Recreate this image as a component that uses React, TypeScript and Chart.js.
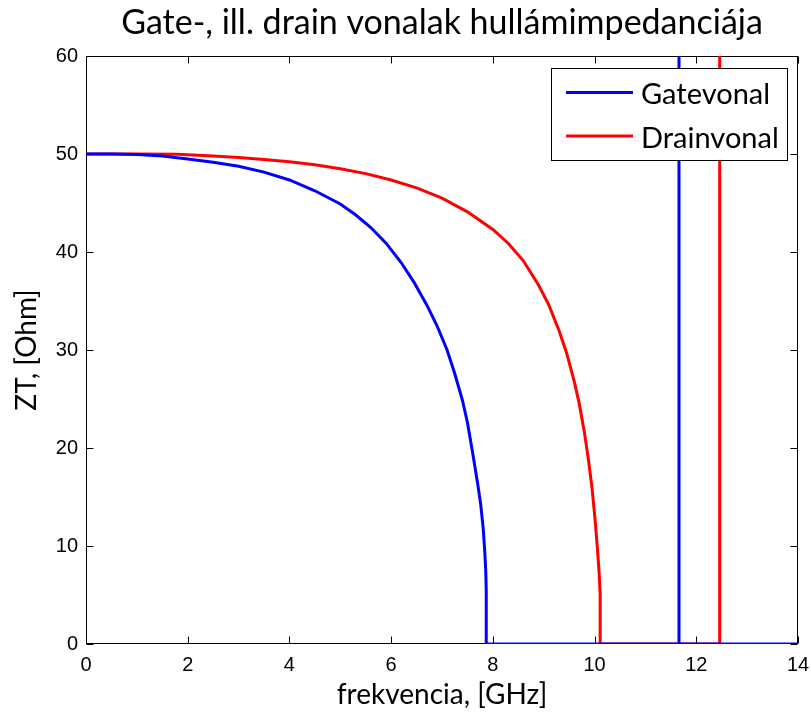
import React, { useEffect, useRef } from 'react';
import { Chart, registerables } from 'chart.js';

Chart.register(...registerables);

const titleText = 'Gate-, ill. drain vonalak hullámimpedanciája';
const xLabel = 'frekvencia, [GHz]';
const yLabel = 'ZT, [Ohm]';
const seriesLabels = ['Gatevonal', 'Drainvonal'];
const seriesColors = ['#0000ff', '#ff0000'];

const xTicks = [0, 2, 4, 6, 8, 10, 12, 14];
const yTicks = [0, 10, 20, 30, 40, 50, 60];

// Gate line characteristic impedance (Ohm) vs frequency (GHz)
const gateFreq = [0, 0.5, 1.0, 1.5, 2.0, 2.5, 3.0, 3.5, 4.0, 4.5, 5.0, 5.3, 5.6, 5.9, 6.2, 6.45, 6.7, 6.9, 7.1, 7.25, 7.4, 7.5, 7.6, 7.7, 7.76, 7.81, 7.84, 7.86, 7.87, 7.87, 11.66, 11.66, 11.66, 14];
const gateZ = [50.0, 50.0, 49.95, 49.8, 49.5, 49.15, 48.75, 48.15, 47.35, 46.25, 44.9, 43.8, 42.5, 40.9, 38.9, 36.9, 34.6, 32.5, 30.0, 27.6, 24.9, 22.6, 19.6, 16.4, 14.3, 11.8, 9.5, 7.5, 5.5, 0, 0, 1000, 0, 0];

// Drain line characteristic impedance (Ohm) vs frequency (GHz)
const drainFreq = [0, 1.0, 1.8, 2.5, 3.0, 3.5, 4.0, 4.5, 5.0, 5.5, 6.0, 6.5, 7.0, 7.5, 8.0, 8.3, 8.6, 8.9, 9.1, 9.3, 9.45, 9.6, 9.7, 9.8, 9.88, 9.95, 10.01, 10.06, 10.09, 10.11, 10.11, 12.46, 12.46, 14];
const drainZ = [50.0, 50.0, 49.97, 49.8, 49.65, 49.45, 49.2, 48.9, 48.5, 48.0, 47.35, 46.55, 45.5, 44.1, 42.3, 40.9, 39.1, 36.6, 34.6, 32.0, 29.7, 26.8, 24.5, 21.6, 18.8, 15.9, 12.7, 9.5, 7.2, 5.1, 0, 0, 1000, 1000];

const calibriLike = 'Lato, "Open Sans", sans-serif';
const arialLike = '"Liberation Sans", Arial, sans-serif';

const boxPlugin = {
  id: 'matlabBox',
  beforeDatasetsDraw(chart: any) {
    const { ctx, chartArea } = chart;
    const l = Math.round(chartArea.left) + 0.5;
    const r = Math.round(chartArea.right) - 0.5;
    const t = Math.round(chartArea.top) + 0.5;
    const b = Math.round(chartArea.bottom) - 0.5;
    const xs = chart.scales.x;
    const ys = chart.scales.y;
    const tl = 7;
    ctx.save();
    ctx.strokeStyle = '#000';
    ctx.lineWidth = 1;
    ctx.strokeRect(l, t, r - l, b - t);
    ctx.beginPath();
    xTicks.forEach((v) => {
      const px = Math.round(xs.getPixelForValue(v)) + 0.5;
      ctx.moveTo(px, b);
      ctx.lineTo(px, b - tl);
      ctx.moveTo(px, t);
      ctx.lineTo(px, t + tl);
    });
    yTicks.forEach((v) => {
      const py = Math.round(ys.getPixelForValue(v)) + 0.5;
      ctx.moveTo(l, py);
      ctx.lineTo(l + tl, py);
      ctx.moveTo(r, py);
      ctx.lineTo(r - tl, py);
    });
    ctx.stroke();
    ctx.restore();
  },
};

const legendPlugin = {
  id: 'matlabLegend',
  afterDraw(chart: any) {
    const { ctx } = chart;
    const bx = 551.5;
    const by = 68.5;
    const bw = 236;
    const bh = 92;
    ctx.save();
    ctx.fillStyle = '#fff';
    ctx.fillRect(bx, by, bw, bh);
    ctx.strokeStyle = '#000';
    ctx.lineWidth = 1;
    ctx.strokeRect(bx, by, bw, bh);
    ctx.font = '29px ' + calibriLike;
    ctx.textBaseline = 'middle';
    ctx.textAlign = 'left';
    chart.data.datasets.forEach((ds: any, i: number) => {
      const y = 92.5 + i * 43.5;
      ctx.strokeStyle = ds.borderColor;
      ctx.lineWidth = 3;
      ctx.beginPath();
      ctx.moveTo(566, y);
      ctx.lineTo(633, y);
      ctx.stroke();
      ctx.fillStyle = '#000';
      ctx.fillText(ds.label, 641, y + 2.5);
    });
    ctx.restore();
  },
};

export default function App() {
  const canvasRef = useRef<HTMLCanvasElement | null>(null);

  useEffect(() => {
    if (!canvasRef.current) return;
    const toPoints = (xs: number[], ys: number[]) => xs.map((x, i) => ({ x, y: ys[i] }));
    const chart = new Chart(canvasRef.current, {
      type: 'scatter',
      data: {
        datasets: [
          {
            label: seriesLabels[0],
            data: toPoints(gateFreq, gateZ),
            borderColor: seriesColors[0],
            backgroundColor: seriesColors[0],
            showLine: true,
            borderWidth: 3,
            pointRadius: 0,
            tension: 0,
          },
          {
            label: seriesLabels[1],
            data: toPoints(drainFreq, drainZ),
            borderColor: seriesColors[1],
            backgroundColor: seriesColors[1],
            showLine: true,
            borderWidth: 3,
            pointRadius: 0,
            tension: 0,
          },
        ],
      },
      options: {
        responsive: false,
        animation: false,
        layout: { padding: { left: 0, right: 13, top: 0, bottom: 0 } },
        plugins: {
          legend: { display: false },
          tooltip: { enabled: false },
          title: {
            display: true,
            text: titleText,
            fullSize: false,
            color: '#000',
            font: { family: calibriLike, size: 34, weight: 'normal' },
            padding: { top: 2.5, bottom: 12.7 },
          },
        },
        scales: {
          x: {
            type: 'linear',
            min: 0,
            max: 14,
            afterBuildTicks: (s: any) => {
              s.ticks = xTicks.map((v) => ({ value: v }));
            },
            afterFit: (s: any) => {
              s.height = 69;
              s.paddingLeft = 0;
              s.paddingRight = 0;
            },
            grid: { display: false, drawTicks: false },
            border: { display: false },
            ticks: {
              color: '#000',
              padding: 9,
              maxRotation: 0,
              font: { family: arialLike, size: 20 },
            },
            title: {
              display: true,
              text: xLabel,
              color: '#000',
              font: { family: calibriLike, size: 28 },
              padding: { top: 0, bottom: 1 },
            },
          },
          y: {
            type: 'linear',
            min: 0,
            max: 60,
            afterBuildTicks: (s: any) => {
              s.ticks = yTicks.map((v) => ({ value: v }));
            },
            afterFit: (s: any) => {
              s.width = 86;
              s.paddingTop = 0;
              s.paddingBottom = 0;
            },
            grid: { display: false, drawTicks: false },
            border: { display: false },
            ticks: {
              color: '#000',
              padding: 8,
              font: { family: arialLike, size: 20 },
            },
            title: {
              display: true,
              text: yLabel,
              color: '#000',
              font: { family: calibriLike, size: 28 },
              padding: { top: 10, bottom: 0 },
            },
          },
        },
      },
      plugins: [boxPlugin, legendPlugin],
    });
    return () => chart.destroy();
  }, []);

  return (
    <div style={{ position: 'absolute', left: 0, top: 0, width: 811, height: 713, background: '#fff' }}>
      <canvas ref={canvasRef} width={811} height={713} />
    </div>
  );
}
